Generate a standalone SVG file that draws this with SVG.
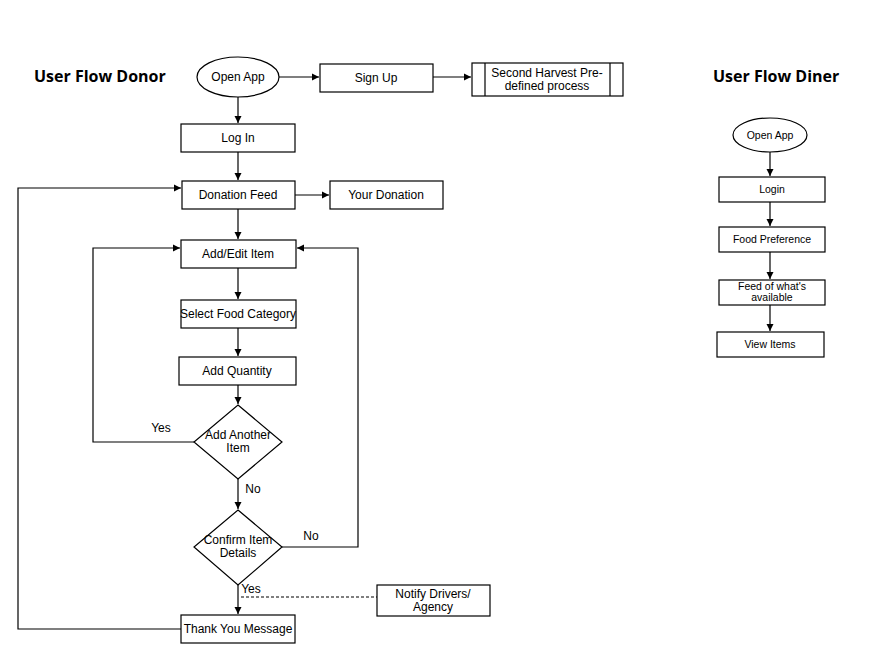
<svg xmlns="http://www.w3.org/2000/svg" width="886" height="672" viewBox="0 0 886 672">
<style>
.n{fill:#fff;stroke:#000;stroke-width:1.2}
.t{font-family:"Liberation Sans",Arial,sans-serif;font-size:12px;text-anchor:middle;fill:#000}
.s{font-size:10.5px}
.h{font-family:"Open Sans",sans-serif;font-weight:bold;font-size:16px;fill:#000}
.c{fill:none;stroke:#000;stroke-width:1.2}
</style>
<defs><marker id="a" markerWidth="8" markerHeight="8" refX="7" refY="4" orient="auto" markerUnits="userSpaceOnUse"><path d="M0,0.5 L7,4 L0,7.5z" fill="#000"/></marker></defs>
<rect width="886" height="672" fill="#fff"/>
<text class="h" x="34" y="82">User Flow Donor</text>
<text class="h" x="713" y="82">User Flow Diner</text>
<g id="connectors">
<path class="c" d="M279,77 H319" marker-end="url(#a)"/>
<path class="c" d="M433,77 H471" marker-end="url(#a)"/>
<path class="c" d="M238,97 V123" marker-end="url(#a)"/>
<path class="c" d="M238,152 V180" marker-end="url(#a)"/>
<path class="c" d="M295,195 H329" marker-end="url(#a)"/>
<path class="c" d="M238,209 V239" marker-end="url(#a)"/>
<path class="c" d="M238,268 V299" marker-end="url(#a)"/>
<path class="c" d="M238,328 V356" marker-end="url(#a)"/>
<path class="c" d="M238,385 V404" marker-end="url(#a)"/>
<path class="c" d="M238,479 V509" marker-end="url(#a)"/>
<path class="c" d="M238,585 V614" marker-end="url(#a)"/>
<path class="c" d="M194,442 H93 V248 H180" marker-end="url(#a)"/>
<path class="c" d="M282,547 H358 V248 H297" marker-end="url(#a)"/>
<path class="c" d="M181,629 H18 V188 H181" marker-end="url(#a)"/>
<path class="c" d="M241,597 H377" stroke-dasharray="3,2"/>
<path class="c" d="M770,152 V176" marker-end="url(#a)"/>
<path class="c" d="M770,202 V226" marker-end="url(#a)"/>
<path class="c" d="M770,252 V279" marker-end="url(#a)"/>
<path class="c" d="M770,305 V331" marker-end="url(#a)"/>
<text class="t" x="161" y="432">Yes</text>
<text class="t" x="253" y="493">No</text>
<text class="t" x="311" y="540">No</text>
<text class="t" x="251" y="593">Yes</text>
</g>
<g id="open"><ellipse class="n" cx="238" cy="77" rx="41" ry="20"/><text class="t" x="238" y="81">Open App</text></g>
<g id="signup"><rect class="n" x="320" y="64" width="113" height="28"/><text class="t" x="376" y="82">Sign Up</text></g>
<g id="harvest"><rect class="n" x="472" y="63" width="151" height="33"/><path class="c" d="M485,63 V96 M610,63 V96"/><text class="t" x="547" y="77">Second Harvest Pre-</text><text class="t" x="547" y="90">defined process</text></g>
<g id="login"><rect class="n" x="181" y="124" width="114" height="28"/><text class="t" x="238" y="142">Log In</text></g>
<g id="feed"><rect class="n" x="182" y="181" width="113" height="28"/><text class="t" x="238" y="199">Donation Feed</text></g>
<g id="yours"><rect class="n" x="330" y="181" width="113" height="28"/><text class="t" x="386" y="199">Your Donation</text></g>
<g id="add"><rect class="n" x="181" y="240" width="115" height="28"/><text class="t" x="238" y="258">Add/Edit Item</text></g>
<g id="cat"><rect class="n" x="181" y="300" width="115" height="28"/><text class="t" x="238" y="318">Select Food Category</text></g>
<g id="qty"><rect class="n" x="179" y="357" width="117" height="28"/><text class="t" x="237" y="375">Add Quantity</text></g>
<g id="another"><path class="n" d="M238,405 L282,442 L238,479 L194,442Z"/><text class="t" x="238" y="439">Add Another</text><text class="t" x="238" y="452">Item</text></g>
<g id="confirm"><path class="n" d="M238,510 L282,547 L238,585 L194,547Z"/><text class="t" x="238" y="544">Confirm Item</text><text class="t" x="238" y="557">Details</text></g>
<g id="thanks"><rect class="n" x="181" y="615" width="114" height="28"/><text class="t" x="238" y="633">Thank You Message</text></g>
<g id="notify"><rect class="n" x="377" y="585" width="113" height="31"/><text class="t" x="433" y="598">Notify Drivers/</text><text class="t" x="433" y="611">Agency</text></g>
<g id="d-open"><ellipse class="n" cx="770" cy="135" rx="37" ry="17"/><text class="t s" x="770" y="139">Open App</text></g>
<g id="d-login"><rect class="n" x="719" y="177" width="106" height="25"/><text class="t s" x="772" y="193">Login</text></g>
<g id="d-pref"><rect class="n" x="719" y="227" width="106" height="25"/><text class="t s" x="772" y="243">Food Preference</text></g>
<g id="d-feed"><rect class="n" x="719" y="280" width="106" height="25"/><text class="t s" x="772" y="290">Feed of what's</text><text class="t s" x="772" y="301">available</text></g>
<g id="d-view"><rect class="n" x="717" y="332" width="107" height="25"/><text class="t s" x="770" y="348">View Items</text></g>
</svg>
